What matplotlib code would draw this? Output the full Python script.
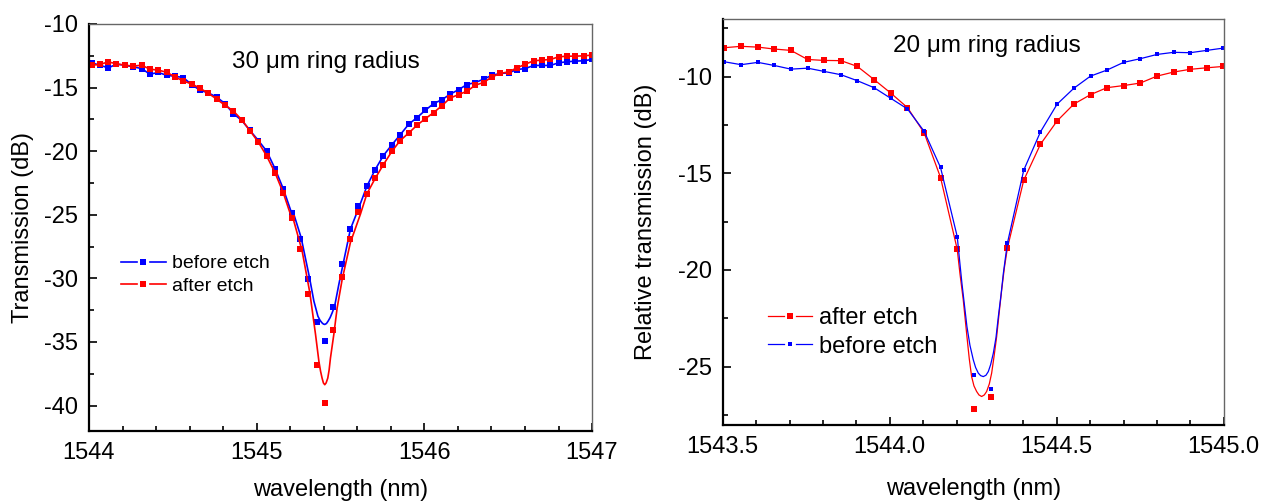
import numpy as np
import matplotlib
matplotlib.use("Agg")
import matplotlib.pyplot as plt
from matplotlib.lines import Line2D
from matplotlib.legend_handler import HandlerBase
from matplotlib.ticker import MultipleLocator, FormatStrFormatter

plt.rcParams['font.family'] = ['Liberation Sans', 'DejaVu Sans']
plt.rcParams['axes.unicode_minus'] = False

# ---------------- 30 um ring (left) ----------------
wl30 = [1544.015, 1544.065, 1544.115, 1544.164, 1544.214, 1544.264, 1544.314, 1544.363,
        1544.413, 1544.463, 1544.513, 1544.562, 1544.612, 1544.662, 1544.712, 1544.761,
        1544.811, 1544.861, 1544.911, 1544.960, 1545.010, 1545.060, 1545.110, 1545.159,
        1545.209, 1545.259, 1545.309, 1545.358, 1545.408, 1545.458, 1545.508, 1545.557,
        1545.607, 1545.657, 1545.707, 1545.756, 1545.806, 1545.856, 1545.906, 1545.955,
        1546.005, 1546.055, 1546.105, 1546.154, 1546.204, 1546.254, 1546.304, 1546.353,
        1546.403, 1546.453, 1546.503, 1546.552, 1546.602, 1546.652, 1546.702, 1546.751,
        1546.801, 1546.851, 1546.901, 1546.950, 1547.000]
before30 = [-13.05, -13.24, -13.45, -13.16, -13.24, -13.37, -13.50, -13.95, -13.81, -14.03,
            -14.11, -14.21, -14.76, -15.21, -15.42, -15.74, -16.26, -17.05, -17.58, -18.37,
            -19.16, -20.00, -21.39, -22.97, -24.89, -26.92, -30.02, -33.42, -34.94, -32.26,
            -28.84, -26.08, -24.34, -22.76, -21.44, -20.34, -19.50, -18.71, -17.89, -17.37,
            -16.79, -16.26, -15.95, -15.52, -15.16, -14.76, -14.60, -14.34, -14.03, -13.89,
            -13.84, -13.58, -13.50, -13.26, -13.26, -13.26, -13.05, -12.97, -12.92, -12.89,
            -12.79]
after30 = [-13.24, -13.18, -12.98, -13.13, -13.24, -13.31, -13.24, -13.55, -13.63, -13.79,
           -14.16, -14.48, -14.71, -15.05, -15.45, -15.90, -16.39, -16.84, -17.53, -18.39,
           -19.29, -20.39, -21.71, -23.29, -25.26, -27.71, -31.26, -36.84, -39.76, -34.02,
           -29.91, -26.92, -24.81, -23.36, -22.13, -21.05, -20.02, -19.16, -18.58, -17.97,
           -17.45, -16.97, -16.42, -15.82, -15.55, -15.29, -14.81, -14.60, -14.16, -13.89,
           -13.76, -13.45, -13.16, -12.89, -12.84, -12.79, -12.58, -12.53, -12.53, -12.50,
           -12.45]
# fitted curves near the resonance
fit30_after_x = [1545.221, 1545.271, 1545.317, 1545.351, 1545.371, 1545.381, 1545.390,
                 1545.398, 1545.406, 1545.414, 1545.424, 1545.432, 1545.440, 1545.460,
                 1545.480, 1545.510, 1545.559, 1545.619]
fit30_after_y = [-25.47, -27.84, -31.13, -34.41, -36.52, -37.30, -37.84,
                 -38.22, -38.36, -38.22, -37.84, -37.20, -36.26, -34.41,
                 -32.31, -30.07, -27.18, -24.94]
fit30_before_x = [1545.215, 1545.265, 1545.315, 1545.341, 1545.365, 1545.378, 1545.390,
                  1545.398, 1545.406, 1545.416, 1545.426, 1545.438, 1545.450, 1545.465,
                  1545.490, 1545.515, 1545.559, 1545.610]
fit30_before_y = [-24.68, -26.79, -29.94, -31.78, -32.97, -33.30, -33.50,
                  -33.59, -33.62, -33.55, -33.36, -33.08, -32.71, -32.18,
                  -30.47, -28.89, -26.13, -24.42]

# ---------------- 20 um ring (right) ----------------
wl20 = [1543.505, 1543.555, 1543.605, 1543.654, 1543.704, 1543.754, 1543.804, 1543.854,
        1543.903, 1543.953, 1544.003, 1544.053, 1544.103, 1544.152, 1544.202, 1544.252,
        1544.302, 1544.352, 1544.401, 1544.451, 1544.501, 1544.551, 1544.601, 1544.650,
        1544.700, 1544.750, 1544.800, 1544.850, 1544.899, 1544.949, 1544.999]
after20 = [-8.50, -8.43, -8.47, -8.57, -8.64, -9.11, -9.16, -9.17, -9.47, -10.15, -10.85,
           -11.60, -12.91, -15.22, -18.94, -27.20, -26.58, -18.88, -15.36, -13.50, -12.29,
           -11.42, -10.93, -10.57, -10.46, -10.33, -9.97, -9.76, -9.62, -9.54, -9.47]
before20 = [-9.23, -9.38, -9.26, -9.42, -9.61, -9.56, -9.73, -9.90, -10.21, -10.57, -11.12,
            -11.67, -12.83, -14.70, -18.28, -25.46, -26.17, -18.63, -14.84, -12.86, -11.42,
            -10.60, -9.97, -9.66, -9.26, -9.07, -8.85, -8.74, -8.76, -8.64, -8.52]
fit20_after_x = [1544.210, 1544.220, 1544.231, 1544.238, 1544.245, 1544.252, 1544.260,
                 1544.267, 1544.275, 1544.283, 1544.290, 1544.298, 1544.305, 1544.312,
                 1544.320, 1544.327, 1544.335, 1544.343]
fit20_after_y = [-20.18, -21.55, -23.45, -24.60, -25.52, -26.00, -26.29,
                 -26.47, -26.55, -26.47, -26.29, -25.90, -25.34, -24.50,
                 -23.45, -22.30, -21.04, -19.90]
fit20_before_x = [1544.209, 1544.216, 1544.231, 1544.240, 1544.250, 1544.257, 1544.265,
                  1544.272, 1544.280, 1544.288, 1544.295, 1544.302, 1544.310, 1544.318,
                  1544.325, 1544.333, 1544.340, 1544.346]
fit20_before_y = [-19.50, -20.69, -22.93, -23.90, -24.65, -25.05, -25.34,
                  -25.47, -25.52, -25.45, -25.26, -24.90, -24.31, -23.50,
                  -22.42, -21.30, -20.18, -19.40]

RED = '#ff0000'
BLUE = '#0000ff'


def merged_line(x, y, fx, fy):
    x = np.asarray(x); y = np.asarray(y)
    fx = np.asarray(fx); fy = np.asarray(fy)
    m = (x < fx.min()) | (x > fx.max())
    lx = np.concatenate([x[m], fx]); ly = np.concatenate([y[m], fy])
    o = np.argsort(lx)
    return lx[o], ly[o]


class GapHandler(HandlerBase):
    def create_artists(self, legend, orig, xdescent, ydescent, width, height, fontsize, trans):
        y = (height - ydescent) / 2
        x0 = -xdescent
        c = orig.get_color()
        lw = orig.get_linewidth()
        l1 = Line2D([x0, x0 + width * 0.36], [y, y], color=c, lw=lw)
        l2 = Line2D([x0 + width * 0.64, x0 + width], [y, y], color=c, lw=lw)
        mk = Line2D([x0 + width / 2], [y], marker='s', ms=orig.get_markersize(),
                    color=c, ls='none', mew=0)
        for a in (l1, l2, mk):
            a.set_transform(trans)
        return [l1, l2, mk]


def style_axes(ax):
    for s in ('left', 'bottom'):
        ax.spines[s].set_linewidth(1.6)
        ax.spines[s].set_color('black')
    for s in ('top', 'right'):
        ax.spines[s].set_linewidth(1.0)
        ax.spines[s].set_color('#666666')
    ax.tick_params(which='both', direction='in', top=False, right=False,
                   labelsize=17, width=1.2, pad=8)
    ax.tick_params(which='major', length=6)
    ax.tick_params(which='minor', length=3.5)


fig = plt.figure(figsize=(12.64, 5.04), dpi=100)

# ---- left panel ----
ax1 = fig.add_axes([0.0704, 0.1448, 0.398, 0.8076])
lx, ly = merged_line(wl30, before30, fit30_before_x, fit30_before_y)
ax1.plot(lx, ly, color=BLUE, lw=1.2)
ax1.plot(wl30, before30, 's', color=BLUE, ms=4.5, mew=0)
lx, ly = merged_line(wl30, after30, fit30_after_x, fit30_after_y)
ax1.plot(lx, ly, color=RED, lw=1.2)
ax1.plot(wl30, after30, 's', color=RED, ms=4.5, mew=0)
ax1.set_xlim(1544, 1547)
ax1.set_ylim(-42, -10)
ax1.xaxis.set_major_locator(MultipleLocator(1))
ax1.xaxis.set_minor_locator(MultipleLocator(0.2))
ax1.yaxis.set_major_locator(MultipleLocator(5))
ax1.yaxis.set_minor_locator(MultipleLocator(2.5))
ax1.xaxis.set_major_formatter(FormatStrFormatter('%d'))
ax1.yaxis.set_major_formatter(FormatStrFormatter('%d'))
style_axes(ax1)
ax1.set_xlabel('wavelength (nm)', fontsize=17, labelpad=11)
ax1.set_ylabel('Transmission (dB)', fontsize=17, labelpad=7)
ax1.text(1544.85, -13.0, '30 \u03bcm ring radius', fontsize=17.5, va='center', ha='left')
h_b = Line2D([], [], color=BLUE, lw=1.2, marker='s', ms=4.5)
h_a = Line2D([], [], color=RED, lw=1.2, marker='s', ms=4.5)
ax1.legend([h_b, h_a], ['before etch', 'after etch'], loc='center left',
           bbox_to_anchor=(0.0636, 0.3835), frameon=False, fontsize=14,
           handlelength=2.3, handletextpad=0.3, labelspacing=0.25,
           borderpad=0, borderaxespad=0, handler_map={Line2D: GapHandler()})

# ---- right panel ----
ax2 = fig.add_axes([0.5718, 0.1577, 0.3964, 0.8052])
lx, ly = merged_line(wl20, after20, fit20_after_x, fit20_after_y)
ax2.plot(lx, ly, color=RED, lw=0.9)
ax2.plot(wl20, after20, 's', color=RED, ms=3.8, mew=0)
lx, ly = merged_line(wl20, before20, fit20_before_x, fit20_before_y)
ax2.plot(lx, ly, color=BLUE, lw=0.9)
ax2.plot(wl20, before20, 's', color=BLUE, ms=2.6, mew=0)
ax2.set_xlim(1543.5, 1545.0)
ax2.set_ylim(-28, -7)
ax2.xaxis.set_major_locator(MultipleLocator(0.5))
ax2.xaxis.set_minor_locator(MultipleLocator(0.1))
ax2.yaxis.set_major_locator(MultipleLocator(5))
ax2.yaxis.set_minor_locator(MultipleLocator(2.5))
ax2.xaxis.set_major_formatter(FormatStrFormatter('%.1f'))
ax2.yaxis.set_major_formatter(FormatStrFormatter('%d'))
style_axes(ax2)
ax2.set_xlabel('wavelength (nm)', fontsize=17, labelpad=15)
ax2.set_ylabel('Relative transmission (dB)', fontsize=17, labelpad=15)
ax2.text(1544.01, -8.4, '20 \u03bcm ring radius', fontsize=17.5, va='center', ha='left')
h_a2 = Line2D([], [], color=RED, lw=0.9, marker='s', ms=3.8)
h_b2 = Line2D([], [], color=BLUE, lw=0.9, marker='s', ms=2.6)
ax2.legend([h_a2, h_b2], ['after etch', 'before etch'], loc='center left',
           bbox_to_anchor=(0.0904, 0.227), frameon=False, fontsize=17,
           handlelength=1.85, handletextpad=0.3, labelspacing=0.27,
           borderpad=0, borderaxespad=0, handler_map={Line2D: GapHandler()})

fig.savefig('out.png', dpi=100)
